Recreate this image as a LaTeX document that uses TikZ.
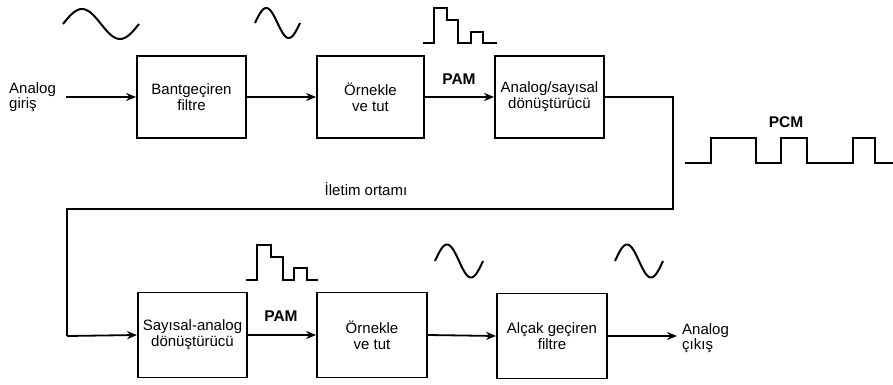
\documentclass[tikz,border=0pt]{standalone}
\usepackage{fontspec}
\setmainfont{Liberation Sans}
\usetikzlibrary{arrows.meta}
\tikzset{
  blk/.style={draw, line width=1.8pt, minimum width=109pt, minimum height=82pt, inner sep=1pt, align=center, font=\fontsize{15}{16}\selectfont},
  conn/.style={line width=1.8pt},
  arr/.style={line width=1.8pt, -{Stealth[length=10pt,width=8pt]}},
  wave/.style={line width=2pt, line join=miter},
  lbl/.style={font=\fontsize{15}{15}\selectfont, align=left, inner sep=0pt},
  bold/.style={font=\fontsize{15.5}{16}\selectfont\bfseries, inner sep=0pt},
}
\begin{document}
\begin{tikzpicture}[x=1pt,y=-1pt]
\useasboundingbox (0,0) rectangle (893,385);
% top row
\node[blk] (b1) at (191.5,97) {Bantgeçiren\\filtre};
\node[blk, minimum width=107pt] (b2) at (370.5,97) {Örnekle\\ve tut};
\node[blk] (b3) at (549.5,97) {Analog/sayısal\\dönüştürücü};
% bottom row
\node[blk, minimum height=85pt] (b4) at (192.5,335) {Sayısal-analog\\dönüştürücü};
\node[blk, minimum width=110pt, minimum height=85pt] (b5) at (372,335) {Örnekle\\ve tut};
\node[blk, minimum width=110pt, minimum height=85pt] (b6) at (552,336) {Alçak geçiren\\filtre};
% labels
\node[lbl, anchor=west] (inl) at (9,97) {Analog\\giriş};
\node[lbl, anchor=west] (outl) at (682,338) {Analog\\çıkış};
\node[bold] (pam1) at (459,79) {PAM};
\node[bold] (pam2) at (281,316) {PAM};
\node[bold] (pcm) at (786,122) {PCM};
\node[lbl] (ilt) at (366,189) {İletim ortamı};
% coordinates
\coordinate (in) at (66,97);
\coordinate (out) at (677,336);
\coordinate (c1) at (673,97);
\coordinate (c2) at (673,209);
\coordinate (c3) at (67,209);
\coordinate (c4) at (67,336);
% connectors
\draw[arr] (in) -- (b1.west);
\draw[arr] (b1.east) -- (b2.west);
\draw[arr] (b2.east) -- (b3.west);
\draw[conn, line join=miter] (b3.east) -- (c1) -- (c2) -- (c3) -- (c4);
\draw[arr] (c4) -- (b4.west);
\draw[arr] (b4.east) -- (b5.west);
\draw[arr] (b5.east) -- (b6.west);
\draw[arr] (b6.east) -- (out);
% sine waves
\draw[wave] plot[domain=0:360, samples=72, smooth] ({63+\x/360*76},{24-15*sin(\x)});
\draw[wave] plot[domain=0:360, samples=72, smooth] ({255+\x/360*45},{23-15*sin(\x)});
\draw[wave] plot[domain=0:360, samples=72, smooth] ({435+\x/360*48},{261-16.5*sin(\x)});
\draw[wave] plot[domain=0:360, samples=72, smooth] ({615+\x/360*48},{261-16.5*sin(\x)});
% PAM waveforms
\draw[wave] (423,43) -- (434,43) -- (434,8) -- (447,8) -- (447,20) -- (458,20) -- (458,43) -- (471,43) -- (471,32) -- (483,32) -- (483,43) -- (497,43);
\draw[wave] (246,280) -- (257,280) -- (257,245) -- (271,245) -- (271,257) -- (283,257) -- (283,280) -- (294,280) -- (294,268) -- (307,268) -- (307,280) -- (318,280);
% PCM waveform
\draw[wave] (685,163) -- (711,163) -- (711,138) -- (756,138) -- (756,163) -- (781,163) -- (781,138) -- (807,138) -- (807,163) -- (853,163) -- (853,138) -- (875,138) -- (875,163) -- (893,163);
\end{tikzpicture}
\end{document}
